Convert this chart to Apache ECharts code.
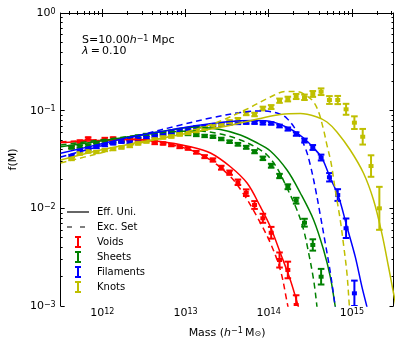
<!DOCTYPE html>
<html>
<head>
<meta charset="utf-8">
<script src="https://cdn.jsdelivr.net/npm/echarts@6/dist/echarts.min.js"></script>
<style>
html,body{margin:0;padding:0;background:#fff;}
#chart{width:399px;height:350px;}
</style>
</head>
<body>
<div id="chart"></div>
<script>
// all masses are log10(M / h^-1 Msun), all f(M) values are log10
var massBins = [11.63,11.73,11.83,11.93,12.03,12.13,12.23,12.33,12.43,12.53,12.63,12.73,12.83,12.93,13.03,
  13.13,13.23,13.33,13.43,13.53,13.63,13.73,13.83,13.93,14.03,14.13,14.23,14.33,14.43,14.53,14.63,
  14.73,14.83,14.93,15.03,15.13,15.23,15.33];

// measured points (log f) and their half error in dex
var voidsVal = [-1.372,-1.316,-1.285,-1.321,-1.290,-1.285,-1.306,-1.295,-1.311,-1.300,-1.331,-1.336,-1.352,-1.372,-1.387,
  -1.426,-1.471,-1.505,-1.584,-1.635,-1.733,-1.840,-1.966,-2.102,-2.250,-2.529,-2.631,-2.990];
var voidsErr = [0.012,0.012,0.012,0.012,0.012,0.012,0.012,0.012,0.012,0.012,0.012,0.012,0.012,0.012,
  0.013,0.014,0.015,0.017,0.02,0.022,0.028,0.034,0.04,0.046,0.06,0.077,0.085,0.1];

var sheetsVal = [-1.377,-1.367,-1.357,-1.346,-1.326,-1.316,-1.306,-1.285,-1.265,-1.249,-1.239,-1.229,-1.229,-1.234,-1.239,
  -1.249,-1.259,-1.267,-1.290,-1.318,-1.344,-1.375,-1.420,-1.488,-1.564,-1.669,-1.779,-1.922,-2.147,-2.375,-2.700];
var sheetsErr = [0.012,0.012,0.012,0.012,0.012,0.012,0.012,0.012,0.012,0.012,0.012,0.012,0.012,0.012,0.012,
  0.012,0.012,0.012,0.013,0.013,0.014,0.015,0.016,0.018,0.02,0.022,0.025,0.03,0.04,0.058,0.08];

var filamentsVal = [-1.464,-1.413,-1.393,-1.372,-1.352,-1.334,-1.318,-1.321,-1.290,-1.280,-1.259,-1.242,-1.218,-1.198,-1.188,
  -1.172,-1.162,-1.152,-1.142,-1.131,-1.126,-1.123,-1.123,-1.129,-1.131,
  -1.157,-1.188,-1.239,-1.306,-1.377,-1.480,-1.682,-1.864,-2.204,-2.870];
var filamentsErr = [0.012,0.012,0.012,0.012,0.012,0.012,0.012,0.012,0.012,0.012,0.012,0.012,0.012,0.012,0.012,
  0.012,0.012,0.012,0.012,0.012,0.012,0.012,0.012,0.012,0.012,
  0.014,0.016,0.018,0.02,0.025,0.03,0.043,0.06,0.1,0.13];

var knotsVal = [-1.495,-1.439,-1.418,-1.423,-1.403,-1.393,-1.377,-1.362,-1.336,-1.316,-1.295,-1.275,-1.265,-1.244,-1.229,
  -1.208,-1.183,-1.162,-1.137,-1.113,-1.091,-1.029,-1.039,-0.978,-0.963,
  -0.898,-0.881,-0.855,-0.863,-0.829,-0.806,-0.891,-0.891,-0.986,-1.123,-1.267,-1.567,-2.000];
var knotsErr = [0.012,0.012,0.012,0.012,0.012,0.012,0.012,0.012,0.012,0.012,0.012,0.012,0.012,0.012,0.012,
  0.013,0.013,0.014,0.014,0.015,0.016,0.017,0.018,0.019,0.02,
  0.022,0.024,0.026,0.028,0.03,0.034,0.04,0.042,0.056,0.065,0.08,0.11,0.22];

// model curves [log M, log f]
var voidsEffUni = [[11.5,-1.328],[11.98,-1.306],[12.34,-1.295],[12.70,-1.316],[13.06,-1.369],[13.30,-1.433],[13.54,-1.574],
  [13.74,-1.741],[13.90,-1.983],[14.02,-2.188],[14.14,-2.457],[14.26,-2.734],[14.35,-2.990],[14.38,-3.092]];
var voidsExcSet = [[11.5,-1.321],[11.98,-1.295],[12.34,-1.290],[12.70,-1.326],[13.06,-1.403],[13.30,-1.505],[13.54,-1.676],
  [13.69,-1.843],[13.86,-2.086],[14.02,-2.355],[14.14,-2.631],[14.22,-2.956],[14.25,-3.092]];
var sheetsEffUni = [[11.5,-1.369],[11.98,-1.311],[12.46,-1.249],[12.82,-1.198],[13.12,-1.167],[13.42,-1.193],[13.66,-1.249],
  [13.84,-1.321],[14.02,-1.413],[14.22,-1.608],[14.38,-1.843],[14.54,-2.119],[14.66,-2.427],[14.74,-2.700],[14.80,-3.007],[14.82,-3.123]];
var sheetsExcSet = [[11.5,-1.352],[11.98,-1.300],[12.46,-1.249],[12.82,-1.218],[13.12,-1.208],[13.42,-1.239],[13.66,-1.300],
  [13.84,-1.372],[13.98,-1.454],[14.10,-1.587],[14.22,-1.792],[14.34,-2.017],[14.42,-2.222],[14.48,-2.457],[14.54,-2.734],[14.58,-3.007],[14.59,-3.123]];
var filamentsEffUni = [[11.5,-1.437],[11.98,-1.341],[12.34,-1.270],[12.70,-1.215],[13.10,-1.157],[13.50,-1.113],[13.84,-1.101],
  [14.05,-1.116],[14.26,-1.188],[14.42,-1.280],[14.54,-1.382],[14.64,-1.485],[14.74,-1.689],[14.84,-1.881],[14.94,-2.188],
  [15.04,-2.495],[15.12,-2.802],[15.18,-3.007],[15.21,-3.123]];
var filamentsExcSet = [[11.5,-1.474],[11.98,-1.362],[12.46,-1.249],[12.94,-1.147],[13.30,-1.075],[13.66,-1.019],[13.90,-1.003],
  [14.10,-1.024],[14.22,-1.080],[14.35,-1.229],[14.44,-1.382],[14.50,-1.556],[14.56,-1.792],[14.62,-2.068],[14.68,-2.355],
  [14.74,-2.652],[14.80,-3.007],[14.82,-3.123]];
var knotsEffUni = [[11.5,-1.505],[11.98,-1.403],[12.34,-1.341],[12.70,-1.285],[13.10,-1.218],[13.50,-1.157],[13.90,-1.080],
  [14.14,-1.039],[14.38,-1.029],[14.58,-1.065],[14.70,-1.116],[14.82,-1.218],[14.98,-1.403],[15.14,-1.641],[15.26,-1.915],
  [15.36,-2.256],[15.44,-2.598],[15.50,-2.867],[15.53,-3.0]];
var knotsExcSet = [[11.5,-1.536],[11.98,-1.433],[12.46,-1.331],[12.82,-1.259],[13.18,-1.177],[13.42,-1.106],[13.74,-0.983],
  [14.02,-0.860],[14.20,-0.804],[14.34,-0.804],[14.46,-0.850],[14.54,-0.911],[14.60,-1.014],[14.66,-1.198],[14.70,-1.352],
  [14.75,-1.536],[14.80,-1.812],[14.86,-2.119],[14.90,-2.375],[14.94,-2.662],[14.97,-3.007],[14.98,-3.123]];

var xMajor = [12, 13, 14, 15];
var yMajor = [-3, -2, -1, 0];
var xRange = [11.5, 15.5];
var yRange = [-3, 0];

var FONT = 'DejaVu Sans';
var RED = '#ff0000', GREEN = '#008000', BLUE = '#0000ff', YEL = '#bfbf00';

function minorTicks(lo, hi) {
    var out = [];
    for (var d = Math.floor(lo); d < hi; d++) {
        for (var k = 2; k < 10; k++) {
            var v = d + Math.log10(k);
            if (v > lo && v < hi) out.push(v);
        }
    }
    return out;
}

function powLabel(v) {
    var e = Math.round(v);
    return '{b|10}{s|' + (e < 0 ? '\u2212' + (-e) : e) + '}';
}

var tickRich = {
    b: {fontSize: 11, fontFamily: FONT, color: '#000', lineHeight: 11, padding: [5, 0, 0, 0], verticalAlign: 'bottom'},
    s: {fontSize: 8, fontFamily: FONT, color: '#000', lineHeight: 8, verticalAlign: 'top'}
};

function axis(kind, pos, major, withLine, ticks, len, labels) {
    var a = {
        type: 'value', position: pos,
        min: kind === 'x' ? xRange[0] : yRange[0],
        max: kind === 'x' ? xRange[1] : yRange[1],
        splitLine: {show: false},
        axisLine: {show: withLine, lineStyle: {color: '#000', width: 1}},
        axisTick: {show: true, inside: true, length: len, customValues: ticks, lineStyle: {color: '#000', width: 1}},
        axisLabel: {show: false}
    };
    if (labels) {
        a.axisLabel = {show: true, customValues: major, formatter: powLabel,
            margin: kind === 'x' ? 2 : 5, rich: tickRich};
    }
    return a;
}

var xMinor = minorTicks(xRange[0], xRange[1]);
var yMinor = minorTicks(yRange[0], yRange[1]);

var xAxes = [
    axis('x', 'bottom', xMajor, true, xMajor, 4, true),
    axis('x', 'bottom', xMajor, false, xMinor, 2, false),
    axis('x', 'top', xMajor, true, xMajor, 4, false),
    axis('x', 'top', xMajor, false, xMinor, 2, false)
];
xAxes[0].name = '{a|Mass (}{i|h}{s|\u22121}{a|\u2009M}{sub|\u2299}{a|)}';
xAxes[0].nameLocation = 'middle';
xAxes[0].nameGap = 15;
xAxes[0].nameTextStyle = {rich: {
    a: {fontSize: 11, fontFamily: FONT, color: '#000', lineHeight: 11, padding: [4, 0, 3, 0]},
    i: {fontSize: 11, fontFamily: FONT, fontStyle: 'italic', color: '#000', lineHeight: 11, padding: [4, 0, 3, 0]},
    s: {fontSize: 8, fontFamily: FONT, color: '#000', lineHeight: 8, verticalAlign: 'top'},
    sub: {fontSize: 8, fontFamily: FONT, color: '#000', lineHeight: 8, verticalAlign: 'bottom'}
}};

var yAxes = [
    axis('y', 'left', yMajor, true, yMajor, 4, true),
    axis('y', 'left', yMajor, false, yMinor, 2, false),
    axis('y', 'right', yMajor, true, yMajor, 4, false),
    axis('y', 'right', yMajor, false, yMinor, 2, false)
];
yAxes[0].name = 'f(M)';
yAxes[0].nameLocation = 'middle';
yAxes[0].nameGap = 33;
yAxes[0].nameTextStyle = {fontSize: 11, fontFamily: FONT, color: '#000'};

function curve(name, pts, color, dashed) {
    return {
        type: 'line', name: name, data: pts, symbol: 'none', smooth: 0.35, clip: true, silent: true,
        lineStyle: {color: color, width: 1.5, type: dashed ? [6, 4] : 'solid'}, itemStyle: {color: color}
    };
}

function errorBars(name, vals, errs, color) {
    var data = [];
    for (var i = 0; i < vals.length; i++) {
        data.push([massBins[i], vals[i], vals[i] - errs[i], vals[i] + errs[i]]);
    }
    return {
        type: 'custom', name: name, data: data, clip: true, silent: true,
        itemStyle: {color: color},
        encode: {x: 0, y: 1},
        renderItem: function (params, api) {
            var c = api.coord([api.value(0), api.value(1)]);
            var lo = api.coord([api.value(0), api.value(2)]);
            var hi = api.coord([api.value(0), api.value(3)]);
            var cw = 3.3;
            var st = {stroke: color, lineWidth: 2};
            return {type: 'group', children: [
                {type: 'line', shape: {x1: c[0], y1: hi[1], x2: c[0], y2: lo[1]}, style: st},
                {type: 'line', shape: {x1: c[0] - cw, y1: hi[1], x2: c[0] + cw, y2: hi[1]}, style: st},
                {type: 'line', shape: {x1: c[0] - cw, y1: lo[1], x2: c[0] + cw, y2: lo[1]}, style: st},
                {type: 'rect', shape: {x: c[0] - 2.5, y: c[1] - 2, width: 5, height: 4}, style: {fill: color}}
            ]};
        }
    };
}

// legend icons (moveTo anchors keep the full 22x12 box)
var ICON_LINE = 'path://M0,0M22,12M0,5.4H22V6.6H0Z';
var ICON_DASH = 'path://M0,0M22,12M0,5.4H5V6.6H0ZM13,5.4H18V6.6H13Z';
var ICON_ERR = 'path://M0,0M22,12M8,0H14V2H12V10H14V12H8V10H10V2H8Z';

var chart = echarts.init(document.getElementById('chart'));
chart.setOption({
    animation: false,
    backgroundColor: '#fff',
    textStyle: {fontFamily: FONT},
    grid: {left: 60, right: 5.5, top: 13, bottom: 44, containLabel: false},
    title: {
        left: 82, top: 34.5, padding: 0,
        text: '{a|S=10.00}{i|h}{s|\u22121}{a| Mpc}\n{i|\u03bb}{a|\u2009=\u20090.10}',
        textStyle: {fontWeight: 'normal', rich: {
            a: {fontSize: 11, fontFamily: FONT, fontWeight: 'normal', color: '#000', lineHeight: 11, padding: [4, 0, 0, 0], verticalAlign: 'bottom'},
            i: {fontSize: 11, fontFamily: FONT, fontWeight: 'normal', fontStyle: 'italic', color: '#000', lineHeight: 11, padding: [4, 0, 0, 0], verticalAlign: 'bottom'},
            s: {fontSize: 8, fontFamily: FONT, fontWeight: 'normal', color: '#000', lineHeight: 8, verticalAlign: 'top'}
        }}
    },
    legend: {
        orient: 'vertical', left: 67, top: 206, padding: 0,
        itemWidth: 22, itemHeight: 12, itemGap: 3, selectedMode: false,
        itemStyle: {borderWidth: 0},
        textStyle: {fontSize: 10, fontFamily: FONT, color: '#000', padding: [0, 0, 0, 3]},
        data: [
            {name: 'Eff. Uni.', icon: ICON_LINE},
            {name: 'Exc. Set', icon: ICON_DASH},
            {name: 'Voids', icon: ICON_ERR},
            {name: 'Sheets', icon: ICON_ERR},
            {name: 'Filaments', icon: ICON_ERR},
            {name: 'Knots', icon: ICON_ERR}
        ]
    },
    xAxis: xAxes,
    yAxis: yAxes,
    series: [
        curve('Voids EU', voidsEffUni, RED, false),
        curve('Voids ES', voidsExcSet, RED, true),
        curve('Sheets EU', sheetsEffUni, GREEN, false),
        curve('Sheets ES', sheetsExcSet, GREEN, true),
        curve('Filaments EU', filamentsEffUni, BLUE, false),
        curve('Filaments ES', filamentsExcSet, BLUE, true),
        curve('Knots EU', knotsEffUni, YEL, false),
        curve('Knots ES', knotsExcSet, YEL, true),
        curve('Eff. Uni.', [], '#000', false),
        curve('Exc. Set', [], '#000', true),
        errorBars('Voids', voidsVal, voidsErr, RED),
        errorBars('Sheets', sheetsVal, sheetsErr, GREEN),
        errorBars('Filaments', filamentsVal, filamentsErr, BLUE),
        errorBars('Knots', knotsVal, knotsErr, YEL)
    ]
});
</script>
</body>
</html>
